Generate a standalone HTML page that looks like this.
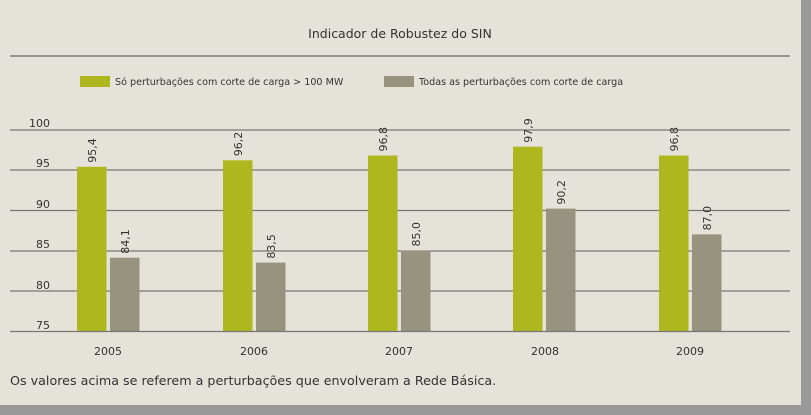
<!DOCTYPE html>
<html><head><style>
body{margin:0;background:#999;}
svg{display:block;}
text{font-family:"DejaVu Sans","Liberation Sans",sans-serif;fill:#333;}
</style></head><body>
<svg width="811" height="415" viewBox="0 0 811 415">
<rect x="0" y="0" width="801" height="405" fill="#e5e2da"/>
<text x="400" y="38" font-size="12.5" text-anchor="middle">Indicador de Robustez do SIN</text>
<line x1="10" y1="56" x2="790" y2="56" stroke="#666" stroke-width="1.3"/>
<rect x="80" y="76" width="30" height="11" fill="#afb71f"/>
<text x="115" y="85" font-size="9.6">Só perturbações com corte de carga &gt; 100 MW</text>
<rect x="384" y="76" width="30" height="11" fill="#97937e"/>
<text x="419" y="85" font-size="9.6">Todas as perturbações com corte de carga</text>
<g stroke="#777" stroke-width="1.3">
<line x1="10" y1="130" x2="790" y2="130"/>
<line x1="10" y1="170" x2="790" y2="170"/>
<line x1="10" y1="210.5" x2="790" y2="210.5"/>
<line x1="10" y1="251" x2="790" y2="251"/>
<line x1="10" y1="291" x2="790" y2="291"/>
</g>
<g font-size="11" text-anchor="end">
<text x="50" y="127">100</text><text x="50" y="167">95</text><text x="50" y="208">90</text>
<text x="50" y="248">85</text><text x="50" y="289">80</text><text x="50" y="329">75</text>
</g>
<g>
<rect x="77" y="166.8" width="29.5" height="164.2" fill="#afb71f"/>
<rect x="110" y="257.7" width="29.5" height="73.3" fill="#97937e"/>
<rect x="223" y="160.3" width="29.5" height="170.7" fill="#afb71f"/>
<rect x="256" y="262.6" width="29.5" height="68.4" fill="#97937e"/>
<rect x="368" y="155.5" width="29.5" height="175.5" fill="#afb71f"/>
<rect x="401" y="250.5" width="29.5" height="80.5" fill="#97937e"/>
<rect x="513" y="146.7" width="29.5" height="184.3" fill="#afb71f"/>
<rect x="546" y="208.6" width="29.5" height="122.4" fill="#97937e"/>
<rect x="659" y="155.5" width="29.5" height="175.5" fill="#afb71f"/>
<rect x="692" y="234.4" width="29.5" height="96.6" fill="#97937e"/>
</g>
<g font-size="11">
<text transform="translate(96,162.8) rotate(-90)">95,4</text>
<text transform="translate(129,253.7) rotate(-90)">84,1</text>
<text transform="translate(242,156.3) rotate(-90)">96,2</text>
<text transform="translate(275,258.6) rotate(-90)">83,5</text>
<text transform="translate(387,151.5) rotate(-90)">96,8</text>
<text transform="translate(420,246.5) rotate(-90)">85,0</text>
<text transform="translate(532,142.7) rotate(-90)">97,9</text>
<text transform="translate(565,204.6) rotate(-90)">90,2</text>
<text transform="translate(678,151.5) rotate(-90)">96,8</text>
<text transform="translate(711,230.4) rotate(-90)">87,0</text>
</g>
<line x1="10" y1="331.5" x2="790" y2="331.5" stroke="#777" stroke-width="1.3"/>
<g font-size="11" text-anchor="middle">
<text x="108" y="355">2005</text><text x="254" y="355">2006</text><text x="399" y="355">2007</text>
<text x="545" y="355">2008</text><text x="690" y="355">2009</text>
</g>
<text x="10" y="385" font-size="12.7">Os valores acima se referem a perturbações que envolveram a Rede Básica.</text>
</svg>
</body></html>
